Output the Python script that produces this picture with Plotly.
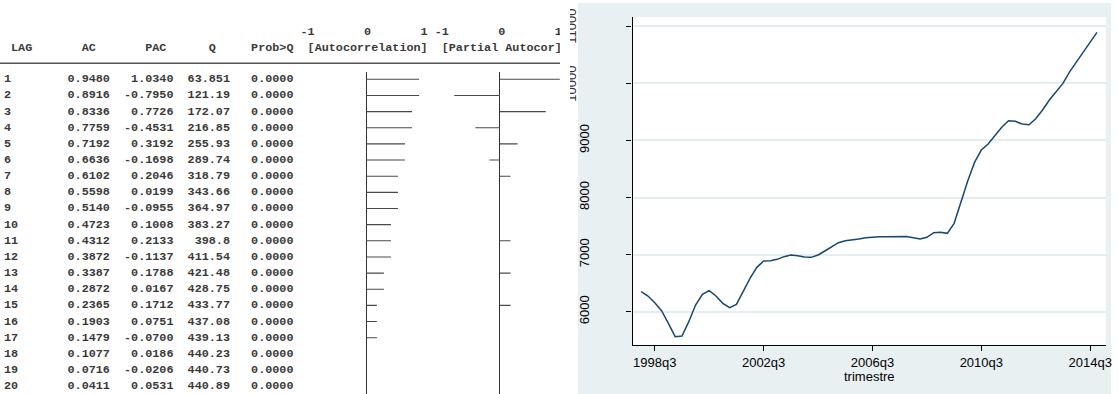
import math
import plotly.graph_objects as go

W, H = 1118, 394

# ---------------- data: corrgram table ----------------
lags = list(range(1, 21))
ac = [0.9480, 0.8916, 0.8336, 0.7759, 0.7192, 0.6636, 0.6102, 0.5598, 0.5140, 0.4723,
      0.4312, 0.3872, 0.3387, 0.2872, 0.2365, 0.1903, 0.1479, 0.1077, 0.0716, 0.0411]
pac = [1.0340, -0.7950, 0.7726, -0.4531, 0.3192, -0.1698, 0.2046, 0.0199, -0.0955, 0.1008,
       0.2133, -0.1137, 0.1788, 0.0167, 0.1712, 0.0751, -0.0700, 0.0186, -0.0206, 0.0531]
q_stat = [63.851, 121.19, 172.07, 216.85, 255.93, 289.74, 318.79, 343.66, 364.97, 383.27,
          398.8, 411.54, 421.48, 428.75, 433.77, 437.08, 439.13, 440.23, 440.73, 440.89]
prob_q = [0.0000, 0.0000, 0.0000, 0.0000, 0.0000, 0.0000, 0.0000, 0.0000, 0.0000, 0.0000,
          0.0000, 0.0000, 0.0000, 0.0000, 0.0000, 0.0000, 0.0000, 0.0000, 0.0000, 0.0000]

scale_header = "-1       0       1 -1       0       1"
col_header = " LAG       AC       PAC      Q     Prob>Q  [Autocorrelation]  [Partial Autocor]"

# ---------------- data: time series ----------------
start_year = 1998
series = [6351, 6275, 6158, 6018, 5796, 5563, 5574, 5825, 6117, 6304,
          6368, 6275, 6147, 6071, 6129, 6351, 6585, 6777, 6888, 6894,
          6917, 6964, 6993, 6982, 6958, 6952, 6993, 7063, 7139, 7209,
          7244, 7256, 7272, 7297, 7312, 7315, 7315, 7318, 7318, 7316,
          7297, 7274, 7303, 7385, 7391, 7373, 7548, 7920, 8290, 8616,
          8832, 8938, 9078, 9230, 9346, 9335, 9288, 9276, 9381, 9533,
          9708, 9854, 10000, 10205, 10380, 10538, 10713, 10894]
quarters = [f"{start_year + i // 4}q{i % 4 + 1}" for i in range(len(series))]
x_tick_labels = ["1998q3", "2002q3", "2006q3", "2010q3", "2014q3"]
y_ticks = [6000, 7000, 8000, 9000, 10000, 11000]
y_tick_text = ["6000", "7000", "8000", "9000", "", ""]
x_title = "trimestre"


def px(x):
    return x / W


def py(y):
    return 1 - y / H


# layout constants (pixels)
CW = 7.074            # monospace character width
FS = CW / 0.6001      # font size for Liberation Mono
X0 = 4.0              # left of text grid
ROW0, ROWH = 79.3, 16.15
AC_ZERO, PAC_ZERO = 368.3, 502.7
UNIT = 8 * CW         # one correlation unit = 8 characters

MONO = "Liberation Mono"
TXT = "#3a3a3a"

fig = go.Figure()

# ---------------- time series panel ----------------
idx = list(range(len(series)))
fig.add_trace(go.Scatter(x=idx, y=series, mode="lines",
                         line=dict(color="#1a476f", width=1.5),
                         xaxis="x", yaxis="y", showlegend=False, hoverinfo="skip"))


# ---------------- text bars (Stata style, quantised to characters) ----------------
def text_bar(v):
    n = min(8, int(math.floor(abs(v) * 8)))
    if n == 0:
        return None
    return math.copysign((n + 0.5) / 8, v)


def bar_trace(vals, xa, ya):
    xs, ys = [], []
    for lag, v in zip(lags, vals):
        L = text_bar(v)
        if L is None:
            continue
        xs += [0, L, None]
        ys += [lag, lag, None]
    return go.Scatter(x=xs, y=ys, mode="lines", line=dict(color="#4a4a4a", width=1.1),
                      xaxis=xa, yaxis=ya, showlegend=False, hoverinfo="skip")


fig.add_trace(bar_trace(ac, "x2", "y2"))
fig.add_trace(bar_trace(pac, "x3", "y3"))

# lag axis geometry
top_px = 72.0
lag_top = 1 + (top_px - ROW0) / ROWH
lag_bot = 1 + (H - ROW0) / ROWH
ydom = [0, py(top_px)]

ac_dom = [300.0, 436.0]
pac_dom = [440.0, 572.0]


def xrange_for(dom, zero):
    return [(dom[0] - zero) / UNIT, (dom[1] - zero) / UNIT]


bar_xaxis = dict(showgrid=False, showticklabels=False, ticks="", showline=False,
                 zeroline=True, zerolinecolor="#333333", zerolinewidth=1.2, fixedrange=True)
bar_yaxis = dict(visible=False, range=[lag_bot, lag_top], domain=ydom, fixedrange=True)

annotations = []


def add_text(text, x, y, **kw):
    d = dict(text=text, x=px(x), y=py(y), xref="paper", yref="paper",
             showarrow=False, xanchor="left", yanchor="middle",
             borderpad=0, borderwidth=0,
             font=dict(family=MONO, size=FS, color=TXT, weight="bold"))
    d.update(kw)
    annotations.append(d)


NB = "\u00a0"
add_text((" " * 42 + scale_header).replace(" ", NB), X0, 31.7)
add_text(col_header.replace(" ", NB), X0, 47.7)

for i, lag in enumerate(lags):
    line = (f"{lag:<3}" + f"{ac[i]:>12.4f}" + f"{pac[i]:>9.4f}"
            + f"{format(q_stat[i], '.5g'):>8}" + f"{prob_q[i]:>9.4f}")
    add_text(line.replace(" ", NB), X0, ROW0 + i * ROWH)

# clipped y labels (10000, 11000) as they appear in the reference
for val, ypx in [("10000", 83.3), ("11000", 26.3)]:
    annotations.append(dict(text=val, x=px(574.5), y=py(ypx), xref="paper", yref="paper",
                            showarrow=False, textangle=-90, xanchor="center", yanchor="middle",
                            borderpad=0, borderwidth=0,
                            font=dict(family="Liberation Sans", size=13, color="#333333")))
annotations.append(dict(text=NB * 3, x=px(568), y=py(55), xref="paper", yref="paper",
                        showarrow=False, xanchor="center", yanchor="middle",
                        width=10, height=110, bgcolor="#ffffff", bordercolor="#ffffff",
                        borderpad=0, borderwidth=0, opacity=1,
                        font=dict(color="#ffffff", size=10)))

# x axis title
annotations.append(dict(text=x_title, x=px(874), y=py(376), xref="paper", yref="paper",
                        showarrow=False, xanchor="center", yanchor="middle",
                        font=dict(family="Liberation Sans", size=13, color="black")))

# ---------------- shapes: backgrounds and rule ----------------
shapes = [
    dict(type="rect", xref="paper", yref="paper", x0=px(581), x1=px(1117), y0=py(H), y1=py(3),
         fillcolor="#e8f0f2", line=dict(width=0), layer="below"),
    dict(type="rect", xref="paper", yref="paper", x0=px(636), x1=px(1112), y0=py(345), y1=py(17),
         fillcolor="white", line=dict(width=0), layer="below"),
    dict(type="line", xref="paper", yref="paper", x0=px(0), x1=px(563), y0=py(63.3), y1=py(63.3),
         line=dict(color="#555555", width=1.6)),
]

# time series axes ranges from pixel geometry
ypp = 57.08 / 1000.0  # px per unit
y_lo = 6000 - (345 - 311.7) / ypp
y_hi = 6000 + (311.7 - 17) / ypp
qpx = 6.84
x_lo = 2 + (636 - 658.3) / qpx
x_hi = 2 + (1112 - 658.3) / qpx

fig.update_layout(
    width=W, height=H,
    margin=dict(l=0, r=0, t=0, b=0),
    paper_bgcolor="white", plot_bgcolor="rgba(0,0,0,0)",
    showlegend=False,
    shapes=shapes,
    annotations=annotations,
    xaxis=dict(domain=[px(636), px(1112)], range=[x_lo, x_hi],
               tickvals=[quarters.index(t) for t in x_tick_labels], ticktext=x_tick_labels,
               ticks="outside", ticklen=5, tickwidth=1.2, tickcolor="black",
               showline=True, linecolor="black", linewidth=1.2,
               showgrid=False, zeroline=False,
               tickfont=dict(family="Liberation Sans", size=13, color="black"),
               fixedrange=True),
    yaxis=dict(domain=[py(345), py(17)], range=[y_lo, y_hi],
               tickvals=y_ticks, ticktext=y_tick_text,
               ticks="outside", ticklen=5, tickwidth=1.2, tickcolor="black",
               showline=True, linecolor="black", linewidth=1.2,
               showgrid=True, gridcolor="#e4edf0", gridwidth=1.5, zeroline=False,
               tickangle=-90, ticklabelstandoff=32,
               tickfont=dict(family="Liberation Sans", size=13, color="black"),
               fixedrange=True),
    xaxis2=dict(domain=[px(ac_dom[0]), px(ac_dom[1])], range=xrange_for(ac_dom, AC_ZERO),
                anchor="y2", **bar_xaxis),
    yaxis2=dict(anchor="x2", **bar_yaxis),
    xaxis3=dict(domain=[px(pac_dom[0]), px(pac_dom[1])], range=xrange_for(pac_dom, PAC_ZERO),
                anchor="y3", **bar_xaxis),
    yaxis3=dict(anchor="x3", **bar_yaxis),
)

fig.write_html("out.html")
